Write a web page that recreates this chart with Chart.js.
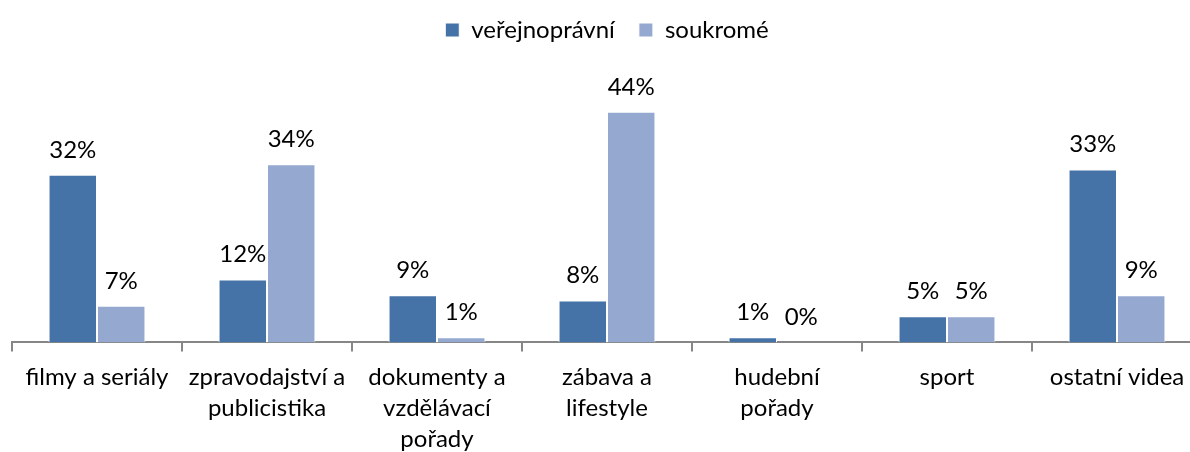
<!DOCTYPE html>
<html>
<head>
<meta charset="utf-8">
<script src="https://cdn.jsdelivr.net/npm/chart.js@4/dist/chart.umd.min.js"></script>
<style>
  html, body { margin: 0; padding: 0; background: #fff; overflow: hidden; }
  #wrap { width: 1202px; height: 465px; }
</style>
</head>
<body>
<div id="wrap"><canvas id="typyVidei"></canvas></div>
<script>
// kategorie videí (víceřádkové popisky osy x)
const kategorie = [
  ['filmy a seriály'],
  ['zpravodajství a', 'publicistika'],
  ['dokumenty a', 'vzdělávací', 'pořady'],
  ['zábava a', 'lifestyle'],
  ['hudební', 'pořady'],
  ['sport'],
  ['ostatní videa']
];
const verejnopravni = [32, 12, 9, 8, 1, 5, 33];
const soukrome = [7, 34, 1, 44, 0, 5, 9];

const pismo = 'Lato, "Open Sans", sans-serif';

// popisky hodnot nad sloupci
const popiskyHodnot = {
  id: 'popiskyHodnot',
  afterDatasetsDraw(chart) {
    const ctx = chart.ctx;
    ctx.save();
    ctx.font = '24px ' + pismo;
    ctx.fillStyle = '#000';
    ctx.textAlign = 'center';
    ctx.textBaseline = 'alphabetic';
    chart.data.datasets.forEach((ds, i) => {
      chart.getDatasetMeta(i).data.forEach((bar, j) => {
        ctx.fillText(ds.data[j] + '%', bar.x, bar.y - 17);
      });
    });
    ctx.restore();
  }
};

new Chart(document.getElementById('typyVidei'), {
  type: 'bar',
  data: {
    labels: kategorie,
    datasets: [
      {
        label: 'veřejnoprávní',
        data: verejnopravni,
        backgroundColor: '#4572a7',
        borderColor: '#ffffff',
        borderWidth: 1,
        borderSkipped: 'bottom'
      },
      {
        label: 'soukromé',
        data: soukrome,
        backgroundColor: '#95a9d0',
        borderColor: '#ffffff',
        borderWidth: 1,
        borderSkipped: 'bottom'
      }
    ]
  },
  options: {
    responsive: true,
    maintainAspectRatio: false,
    animation: false,
    layout: { padding: { left: 12, right: 0, top: -6, bottom: 0 } },
    datasets: {
      bar: { barPercentage: 1, categoryPercentage: 0.57 }
    },
    plugins: {
      legend: {
        position: 'top',
        labels: {
          boxWidth: 14,
          boxHeight: 14,
          padding: 24,
          color: '#000',
          font: { family: pismo, size: 24 }
        }
      },
      tooltip: { enabled: false }
    },
    scales: {
      x: {
        grid: {
          display: true,
          offset: true,
          drawOnChartArea: false,
          drawTicks: true,
          tickLength: 9,
          color: '#868686',
          lineWidth: 2
        },
        border: { display: true, color: '#868686', width: 2 },
        ticks: {
          color: '#000',
          maxRotation: 0,
          autoSkip: false,
          padding: 10,
          font: { family: pismo, size: 24, lineHeight: 1.3 }
        }
      },
      y: {
        display: false,
        min: 0,
        max: 55.4
      }
    }
  },
  plugins: [popiskyHodnot]
});
</script>
</body>
</html>
